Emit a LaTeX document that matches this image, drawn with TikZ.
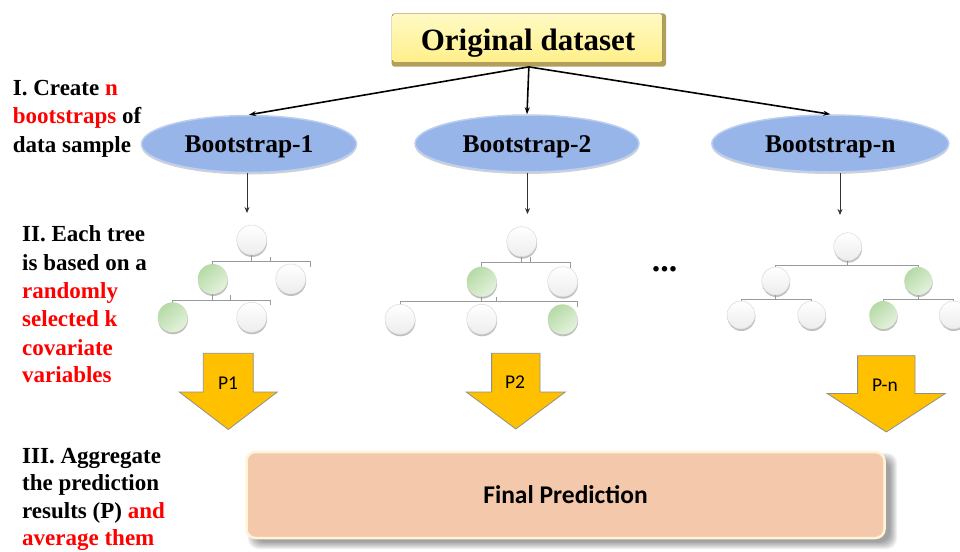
\documentclass[tikz,border=0pt]{standalone}
\usepackage{fontspec}
\setmainfont{Liberation Serif}
\newfontfamily\carlfont{Carlito}
\usetikzlibrary{arrows.meta,shadows,calc,shapes.geometric}

\definecolor{redtxt}{HTML}{FF0000}
\definecolor{boxdark}{HTML}{B39F5C}
\definecolor{boxtop}{HTML}{FFFAC4}
\definecolor{boxbot}{HTML}{FFEF8A}
\definecolor{ellfill}{HTML}{97B5E8}
\definecolor{elledge}{HTML}{BCCFF0}
\definecolor{grnA}{HTML}{B6DAA6}
\definecolor{grnB}{HTML}{E4F2DD}
\definecolor{arrfill}{HTML}{FFC000}
\definecolor{arredge}{HTML}{8F8F8F}
\definecolor{finfill}{HTML}{F4C8AA}
\definecolor{finedge}{HTML}{FFF3DA}
\definecolor{treegray}{HTML}{9A9A9A}
\definecolor{circbot}{HTML}{EDEDED}
\definecolor{circline}{HTML}{DADADA}

\newcommand\rd[1]{\textcolor{redtxt}{#1}}
% block arrow: centre x, top y, half shaft, head y, half head, tip y
\newcommand\blockarrow[6]{%
  \draw[barr] (#1-#3,#2) -- (#1+#3,#2) -- (#1+#3,#4) -- (#1+#5,#4)
    -- (#1,#6) -- (#1-#5,#4) -- (#1-#3,#4) -- cycle;}

\tikzset{
  lbl/.style={anchor=base west, inner sep=0pt,
    font=\bfseries\fontsize{23}{28}\selectfont},
  bootnode/.style={ellipse, fill=ellfill, draw=elledge, line width=1.5pt,
    inner sep=0pt, minimum height=57,
    font=\bfseries\fontsize{25.5}{26}\selectfont, text height=17pt, text depth=0pt,
    drop shadow={shadow xshift=0pt, shadow yshift=-2pt, opacity=.18, fill=black}},
  arr/.style={-{Stealth[length=7pt,width=5pt]}, line width=1.6pt, black},
  arrthin/.style={-{Stealth[length=6pt,width=5pt]}, line width=0.9pt, black!80},
  wc/.style={circle, inner sep=0pt, minimum size=30, draw=circline, line width=0.5pt,
    top color=white, bottom color=circbot,
    drop shadow={shadow xshift=0.4pt, shadow yshift=-2pt, opacity=.25, fill=black}},
  gc/.style={circle, inner sep=0pt, minimum size=30,
    top color=grnA, bottom color=grnB, shading angle=40,
    drop shadow={shadow xshift=0.4pt, shadow yshift=-2pt, opacity=.25, fill=black}},
  tl/.style={draw=treegray, line width=1pt},
  barr/.style={fill=arrfill, draw=arredge, line width=0.8pt, line join=miter},
  plbl/.style={inner sep=0pt, font=\carlfont\fontsize{19.5}{20}\selectfont},
}

\begin{document}
\begin{tikzpicture}[x=1pt,y=-1pt]
\useasboundingbox (0,0) rectangle (960,551);

% ---------- top box ----------
\node[fill=boxdark, rounded corners=3pt, minimum width=274.3, minimum height=53.4,
  inner sep=0pt] (orig) at (528.85,40) {};
\fill[top color=boxtop, bottom color=boxbot, rounded corners=2pt]
  ($(orig.north west)+(1,1)$) rectangle ($(orig.south east)+(-4,-5)$);
\node[anchor=base, inner sep=0pt, font=\bfseries\fontsize{31}{31}\selectfont]
  (origtxt) at (528,50.7) {Original dataset};

% ---------- bootstrap ellipses ----------
\node[bootnode, minimum width=215] (b1) at (249,144) {Bootstrap-1};
\node[bootnode, minimum width=224] (b2) at (527,143.5) {Bootstrap-2};
\node[bootnode, minimum width=237] (bn) at (830.3,143.5) {Bootstrap-n};

\draw[arr] (orig.south) -- (b1.north);
\draw[arr] (orig.south) -- (b2.north);
\draw[arr] (orig.south) -- (bn.north);

\coordinate (a1) at (247,213);
\coordinate (a2) at (527.5,214);
\coordinate (a3) at (840,215);
\draw[arrthin] (b1.south -| a1) -- (a1);
\draw[arrthin] (b2.south -| a2) -- (a2);
\draw[arrthin] (bn.south -| a3) -- (a3);

% ---------- tree 1 ----------
\coordinate (t1p) at (212.7,261.7);
\coordinate (t1q) at (310.7,261.7);
\coordinate (t1s) at (172.7,300);
\coordinate (t1t) at (270,300);
\draw[tl] ($(t1p)+(0,5)$) -- (t1p) -- (t1q) -- ++(0,5);
\draw[tl] (270.7,256.7) -- (270.7,261.7);
\draw[tl] ($(t1s)+(0,5)$) -- (t1s) -- (t1t) -- ++(0,5);
\draw[tl] (230.7,295) -- (230.7,300);
\node[wc] (t1r) at (251.7,240) {};
\node[gc] (t1a) at (212.7,279) {};
\node[wc] (t1b) at (290.7,279) {};
\node[gc] (t1c) at (172.7,317.3) {};
\node[wc] (t1d) at (251.7,317.3) {};
\draw[tl] (t1r.south) -- (t1r.south |- t1p);
\draw[tl] (t1a.south) -- (t1a.south |- t1s);

% ---------- tree 2 ----------
\coordinate (t2p) at (481,262.7);
\coordinate (t2q) at (570,262.7);
\coordinate (t2s) at (400,301.7);
\coordinate (t2t) at (577.3,301.7);
\draw[tl] ($(t2p)+(0,5)$) -- (t2p) -- (t2q) -- ++(0,5);
\draw[tl] ($(t2s)+(0,5)$) -- (t2s) -- (t2t) -- ++(0,5);
\draw[tl] (530,256.7) -- (530,262.7);
\draw[tl] (496,296.7) -- (496,301.7);
\node[wc] (t2r) at (521.7,241.7) {};
\node[gc] (t2a) at (481.7,281.7) {};
\node[wc] (t2b) at (562.7,281.7) {};
\node[wc] (t2c) at (400,319.3) {};
\node[wc] (t2d) at (481.7,319.3) {};
\node[gc] (t2e) at (562.7,319.3) {};
\draw[tl] (t2r.south) -- (t2r.south |- t2p);
\draw[tl] (t2a.south) -- (t2a.south |- t2s);

% ---------- tree 3 ----------
\coordinate (t3p) at (0,265);
\coordinate (t3s) at (0,299);
\node[wc, minimum size=28] (t3r) at (847.7,246.7) {};
\node[wc, minimum size=28] (t3a) at (775.7,281) {};
\node[gc, minimum size=28] (t3b) at (918.3,281) {};
\node[wc, minimum size=28] (t3c) at (741,315) {};
\node[wc, minimum size=28] (t3d) at (811.7,315) {};
\node[gc, minimum size=28] (t3e) at (883.3,315) {};
\node[wc, minimum size=28] (t3f) at (953.3,315) {};
\draw[tl] (t3r.south) -- (t3r.south |- t3p);
\draw[tl] (t3a.north) -- (t3a.north |- t3p) -- (t3b.north |- t3p) -- (t3b.north);
\draw[tl] (t3a.south) -- (t3a.south |- t3s);
\draw[tl] (t3c.north) -- (t3c.north |- t3s) -- (t3d.north |- t3s) -- (t3d.north);
\draw[tl] (t3b.south) -- (t3b.south |- t3s);
\draw[tl] (t3e.north) -- (t3e.north |- t3s) -- (t3f.north |- t3s) -- (t3f.north);

% ellipsis between the trees
\node[anchor=base, inner sep=0pt, font=\bfseries\fontsize{34}{34}\selectfont]
  (dots) at (664.5,271.5) {...};

% ---------- prediction arrows ----------
\blockarrow{228.3}{353.3}{25}{392}{49}{429.5}
\blockarrow{515.8}{353.3}{24.2}{392}{49.5}{429}
\blockarrow{886.3}{355.7}{28.7}{393.5}{59}{432}
\node[plbl] (p1) at (228,383) {P1};
\node[plbl] (p2) at (515,382.5) {P2};
\node[plbl] (pn) at (885,385.5) {P-n};

% ---------- final prediction box ----------
\foreach \d in {-3,-2,...,4}
  \fill[black, opacity=.055, rounded corners=10pt]
    (252-\d,457-\d) rectangle (893+\d,545+\d);
\node[fill=finfill, draw=finedge, line width=2.5pt, rounded corners=9pt,
  minimum width=638, minimum height=86, inner sep=0pt,
  font=\carlfont\bfseries\fontsize{25.5}{26}\selectfont] (fin) at (565.5,495) {Final Prediction};

% ---------- step captions ----------
\node[lbl] (s1a) at (12.7,95) {I. Create \rd{n}};
\node[lbl] (s1b) at (12.7,123.5) {\rd{bootstraps} of};
\node[lbl] (s1c) at (12.7,152) {data sample};

\node[lbl] (s2a) at (22,241.7) {II. Each tree};
\node[lbl] (s2b) at (22,270) {is based on a};
\node[lbl] (s2c) at (22,298.5) {\rd{randomly}};
\node[lbl] (s2d) at (22,326.7) {\rd{selected k}};
\node[lbl] (s2e) at (22,355) {\rd{covariate}};
\node[lbl] (s2f) at (22,382.7) {\rd{variables}};

\node[lbl] (s3a) at (22,463) {III. Aggregate};
\node[lbl] (s3b) at (22,490.5) {the prediction};
\node[lbl] (s3c) at (22,518) {results (P) \rd{and}};
\node[lbl] (s3d) at (22,545.3) {\rd{average them}};
\end{tikzpicture}
\end{document}
